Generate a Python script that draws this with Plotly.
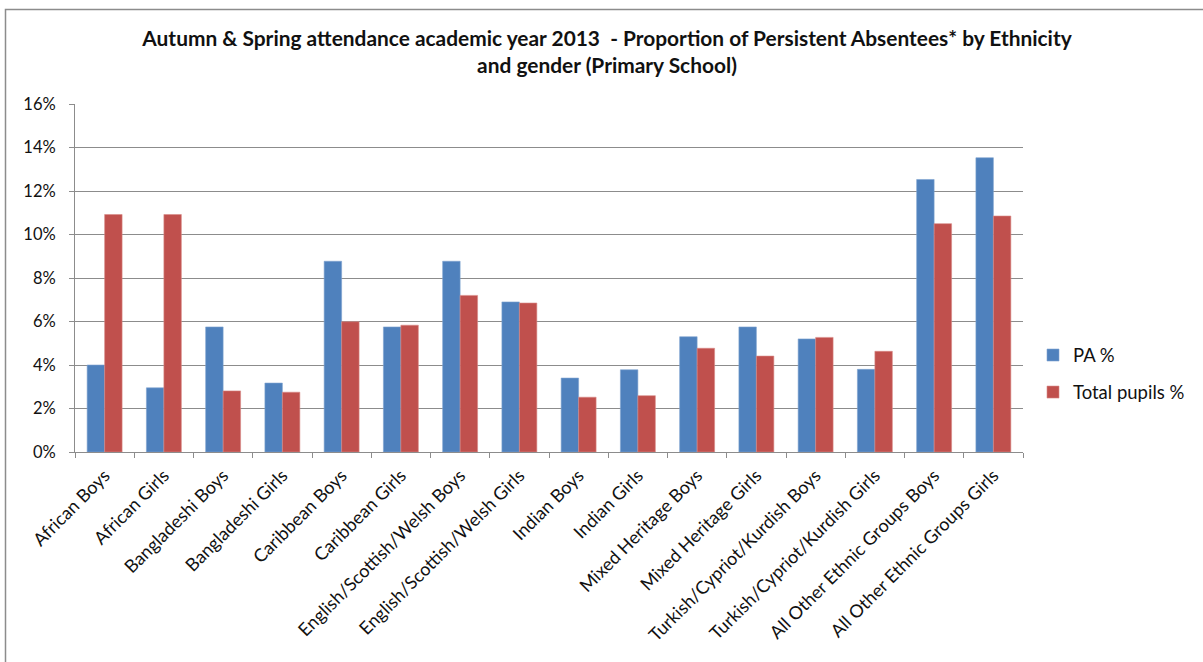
import plotly.graph_objects as go

categories = ["African Boys", "African Girls", "Bangladeshi Boys", "Bangladeshi Girls",
              "Caribbean Boys", "Caribbean Girls", "English/Scottish/Welsh Boys",
              "English/Scottish/Welsh Girls", "Indian Boys", "Indian Girls",
              "Mixed Heritage Boys", "Mixed Heritage Girls", "Turkish/Cypriot/Kurdish Boys",
              "Turkish/Cypriot/Kurdish Girls", "All Other Ethnic Groups Boys",
              "All Other Ethnic Groups Girls"]
pa_pct = [0.040, 0.0295, 0.0575, 0.0317, 0.0877, 0.0575, 0.0877, 0.0690,
          0.0340, 0.0378, 0.0530, 0.0575, 0.0520, 0.0380, 0.1253, 0.1353]
total_pct = [0.1092, 0.1092, 0.0281, 0.0275, 0.0599, 0.0583, 0.0720, 0.0685,
             0.0252, 0.0259, 0.0477, 0.0441, 0.0527, 0.0463, 0.1050, 0.1085]
title_text = ("Autumn & Spring attendance academic year 2013  - Proportion of Persistent Absentees* by Ethnicity"
              "<br>and gender (Primary School)")

W, H = 1203, 662
L, R, T, B = 75, 1023, 104, 452

fig = go.Figure()
fig.add_trace(go.Bar(x=categories, y=pa_pct, name="PA %", marker_color="#4F81BD",
                     marker_line=dict(color="#7FA3D0", width=0.6), legendgroup="a"))
fig.add_trace(go.Bar(x=categories, y=total_pct, name="Total pupils %", marker_color="#C0504D",
                     marker_line=dict(color="#D88986", width=0.6), legendgroup="b"))

pw, ph = R - L, B - T
def px(x): return (x - L) / pw
def py(y): return (B - y) / ph

fig.update_layout(
    width=W, height=H,
    margin=dict(l=L, r=W - R, t=T, b=H - B, autoexpand=False),
    paper_bgcolor="white", plot_bgcolor="white",
    barmode="group", bargap=0.41, bargroupgap=0,
    font=dict(family="Lato, Carlito, sans-serif", color="#222222", size=13),
    title=dict(text=title_text, x=607 / W, xanchor="center", xref="container",
               y=1 - 46 / H, yanchor="middle",
               font=dict(size=20.9, family="Lato, sans-serif", color="#111111", weight="bold")),
    legend=dict(x=px(1033), y=py(374), xanchor="left", yanchor="middle",
                font=dict(size=18.5, color="#111111"), tracegroupgap=10,
                itemwidth=30, bgcolor="rgba(0,0,0,0)"),
    showlegend=True,
    shapes=[dict(type="rect", xref="paper", yref="paper",
                 x0=px(5.5), x1=px(1215), y0=py(670), y1=py(9.5),
                 line=dict(color="#8C8C8C", width=1.5), fillcolor="rgba(0,0,0,0)", layer="below")],
)
fig.update_xaxes(type="category", tickangle=-45, showgrid=False,
                 showline=True, linecolor="#8C8C8C", linewidth=1,
                 ticks="outside", tickson="boundaries", ticklen=5, tickcolor="#8C8C8C",
                 ticklabelstandoff=5,
                 tickfont=dict(size=18, color="#111111"))
fig.update_yaxes(range=[0, 0.16], dtick=0.02, tickformat=".0%",
                 showgrid=True, gridcolor="#8C8C8C", gridwidth=1,
                 showline=True, linecolor="#8C8C8C", linewidth=1,
                 ticks="outside", ticklen=5, tickcolor="#8C8C8C", ticklabelstandoff=10,
                 tickfont=dict(size=16.5, color="#111111"), zeroline=False)

fig.write_html("out.html", config={"displayModeBar": False},
               post_script="document.body.style.margin='0px';")
